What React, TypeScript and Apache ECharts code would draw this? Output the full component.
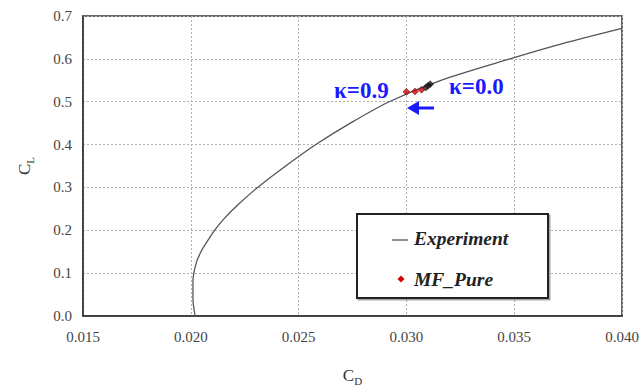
import React, { useEffect, useRef } from "react";
import * as echarts from "echarts";

const expCD = [0.0202, 0.0201, 0.0201, 0.02023, 0.02047, 0.02084, 0.0211, 0.0216, 0.0222, 0.0231, 0.0244, 0.0258, 0.0274, 0.0292, 0.0316, 0.0348, 0.0372, 0.0400];
const expCL = [0.0, 0.04, 0.08, 0.12, 0.15, 0.18, 0.2, 0.23, 0.26, 0.3, 0.35, 0.4, 0.45, 0.5, 0.55, 0.6, 0.635, 0.671];

const mfCD = [0.0300, 0.0304, 0.0307, 0.0309, 0.0310, 0.0311];
const mfCL = [0.523, 0.524, 0.528, 0.533, 0.537, 0.541];
const mfColors = ["#d40000", "#d40000", "#d40000", "#222222", "#222222", "#111111"];

const xTicks = { min: 0.015, max: 0.04, interval: 0.005 };
const yTicks = { min: 0, max: 0.7, interval: 0.1 };

const serif = "Liberation Serif";

export default function App() {
  const ref = useRef<HTMLDivElement>(null);
  useEffect(() => {
    if (!ref.current) return;
    const chart = echarts.init(ref.current, undefined, { renderer: "svg" });
    chart.setOption({
      animation: false,
      backgroundColor: "#ffffff",
      textStyle: { fontFamily: serif },
      grid: {
        left: 83,
        right: 22,
        top: 16,
        bottom: 69,
        show: true,
        borderColor: "#333",
        borderWidth: 1.5,
        backgroundColor: "transparent",
      },
      xAxis: {
        type: "value",
        min: xTicks.min,
        max: xTicks.max,
        interval: xTicks.interval,
        name: "{m|C}{s|D}",
        nameLocation: "middle",
        nameGap: 49,
        nameTextStyle: {
          rich: {
            m: { fontFamily: serif, fontSize: 17, color: "#333" },
            s: { fontFamily: serif, fontSize: 11, color: "#333", padding: [10, 0, 0, 0] },
          },
        },
        axisLine: { show: true, lineStyle: { color: "#333", width: 1.5 } },
        axisTick: { show: false },
        axisLabel: {
          margin: 13,
          fontFamily: serif,
          fontSize: 15,
          color: "#444",
          formatter: (v: number) => v.toFixed(3),
        },
        splitLine: { show: true, lineStyle: { color: "#b0b0b0", type: [2, 2], width: 1 } },
      },
      yAxis: {
        type: "value",
        min: yTicks.min,
        max: yTicks.max,
        interval: yTicks.interval,
        name: "{m|C}{s|L}",
        nameLocation: "middle",
        nameGap: 48,
        nameRotate: 90,
        nameTextStyle: {
          rich: {
            m: { fontFamily: serif, fontSize: 17, color: "#333" },
            s: { fontFamily: serif, fontSize: 11, color: "#333", padding: [10, 0, 0, 0] },
          },
        },
        axisLine: { show: true, lineStyle: { color: "#333", width: 1.5 } },
        axisTick: { show: false },
        axisLabel: {
          margin: 11,
          fontFamily: serif,
          fontSize: 15,
          color: "#444",
          formatter: (v: number) => v.toFixed(1),
        },
        splitLine: { show: true, lineStyle: { color: "#b0b0b0", type: [2, 2], width: 1 } },
      },
      series: [
        {
          name: "Experiment",
          type: "line",
          data: expCD.map((x, i) => [x, expCL[i]]),
          smooth: 0.3,
          showSymbol: false,
          symbol: "none",
          lineStyle: { color: "#555", width: 1.3 },
          z: 2,
        },
        {
          name: "MF_Pure",
          type: "scatter",
          symbol: "diamond",
          symbolSize: 7,
          data: mfCD.map((x, i) => ({
            value: [x, mfCL[i]],
            itemStyle: { color: mfColors[i], borderColor: "#300", borderWidth: 0.5 },
          })),
          z: 3,
        },
      ],
      graphic: [
        {
          type: "text",
          left: 334,
          top: 79,
          style: { text: "κ=0.9", fontFamily: serif, fontSize: 23, fontWeight: "bold", fill: "#1a1aff" },
          z: 10,
        },
        {
          type: "text",
          left: 449,
          top: 75,
          style: { text: "κ=0.0", fontFamily: serif, fontSize: 23, fontWeight: "bold", fill: "#1a1aff" },
          z: 10,
        },
        {
          type: "line",
          shape: { x1: 416, y1: 108, x2: 434, y2: 108 },
          style: { stroke: "#1a1aff", lineWidth: 3 },
          z: 10,
        },
        {
          type: "polygon",
          shape: { points: [[407, 108], [419, 101], [419, 115]] },
          style: { fill: "#1a1aff" },
          z: 10,
        },
        {
          type: "rect",
          shape: { x: 357, y: 214, width: 191, height: 84 },
          style: { fill: "#ffffff", stroke: "#222", lineWidth: 2, shadowColor: "rgba(0,0,0,0.35)", shadowOffsetX: 1.5, shadowOffsetY: 1.5, shadowBlur: 1 },
          z: 20,
        },
        {
          type: "line",
          shape: { x1: 392, y1: 240, x2: 408, y2: 240 },
          style: { stroke: "#555", lineWidth: 1.3 },
          z: 21,
        },
        {
          type: "text",
          left: 414,
          top: 228,
          style: { text: "Experiment", fontFamily: serif, fontSize: 19.5, fontWeight: "bold", fontStyle: "italic", fill: "#222" },
          z: 21,
        },
        {
          type: "polygon",
          shape: { points: [[401, 275.5], [404.5, 279], [401, 282.5], [397.5, 279]] },
          style: { fill: "#d40000" },
          z: 21,
        },
        {
          type: "text",
          left: 414,
          top: 269,
          style: { text: "MF_Pure", fontFamily: serif, fontSize: 19.5, fontWeight: "bold", fontStyle: "italic", fill: "#222" },
          z: 21,
        },
      ],
    });
    return () => chart.dispose();
  }, []);
  return <div ref={ref} style={{ width: 644, height: 391, position: "absolute", left: 0, top: 0 }} />;
}
